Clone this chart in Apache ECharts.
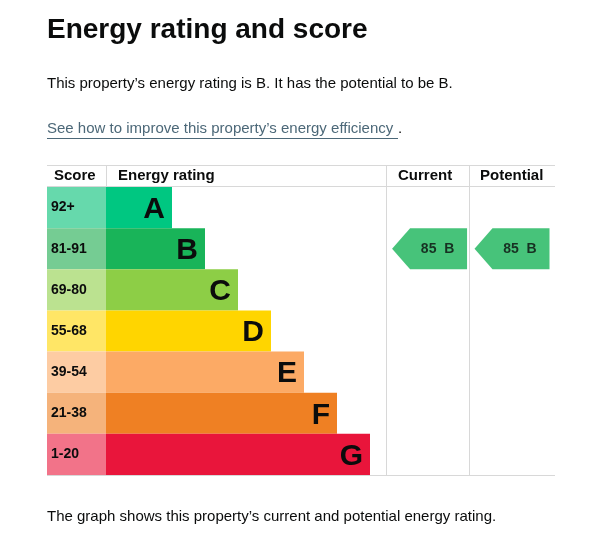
<!DOCTYPE html>
<html><head><meta charset="utf-8">
<script src="https://cdn.jsdelivr.net/npm/echarts@6/dist/echarts.min.js"></script>
<style>html,body{margin:0;background:#fff}#c{width:599px;height:539px}</style>
</head><body><div id="c"></div>
<script>
var bands = ['A', 'B', 'C', 'D', 'E', 'F', 'G'];
var scoreRanges = ['92+', '81-91', '69-80', '55-68', '39-54', '21-38', '1-20'];
var barLengths = [2, 3, 4, 5, 6, 7, 8];
var bandColors = ['#00c781', '#19b459', '#8dce46', '#ffd500', '#fcaa65', '#ef8023', '#e9153b'];
var scoreColors = ['#66d9ac', '#75cc93', '#bbe290', '#ffe666', '#fdcca3', '#f5b37b', '#f27389'];
var currentScore = 85, currentBand = 'B';
var potentialScore = 85, potentialBand = 'B';

var font = 'Arial, "Liberation Sans", sans-serif';
var chart = echarts.init(document.getElementById('c'));
var yCat = function (i) {
    return {gridIndex: i, type: 'category', data: bands, inverse: true, show: false};
};
var line = function (x1, y1, x2, y2) {
    return {type: 'line', shape: {x1: x1, y1: y1, x2: x2, y2: y2}, style: {stroke: '#d8d8d8', lineWidth: 1}, z: 10};
};
var arrowPath = 'path://M0,20 L18,0 L75,0 L75,40 L18,40 Z';

var option = {
    animation: false,
    grid: [
        {left: 47, width: 59, top: 187, height: 288},
        {left: 106, right: 44, top: 187, height: 288},
        {left: 386, width: 83, top: 187, height: 288},
        {left: 469, width: 86, top: 187, height: 288}
    ],
    xAxis: [
        {gridIndex: 0, type: 'value', min: 0, max: 1, show: false},
        {gridIndex: 1, type: 'value', min: 0, max: 449 / 33, show: false},
        {gridIndex: 2, type: 'value', min: -1, max: 1, show: false},
        {gridIndex: 3, type: 'value', min: -1, max: 1, show: false}
    ],
    yAxis: [yCat(0), yCat(1), yCat(2), yCat(3)],
    series: [{
        type: 'bar', xAxisIndex: 0, yAxisIndex: 0, barCategoryGap: 0,
        data: scoreRanges.map(function (s, i) {
            return {value: 1, itemStyle: {color: scoreColors[i]}, label: {formatter: s}};
        }),
        label: {show: true, position: 'insideLeft', offset: [-1, 0], color: '#0b0c0c', fontFamily: font, fontWeight: 'bold', fontSize: 14}
    }, {
        type: 'bar', xAxisIndex: 1, yAxisIndex: 1, barCategoryGap: 0,
        data: barLengths.map(function (v, i) {
            return {value: v, itemStyle: {color: bandColors[i]}};
        }),
        label: {show: true, position: 'insideRight', offset: [-2, 2], formatter: function (p) { return bands[p.dataIndex]; },
            color: '#0b0c0c', fontFamily: font, fontWeight: 'bold', fontSize: 30}
    }, {
        type: 'scatter', xAxisIndex: 2, yAxisIndex: 2, symbol: arrowPath, symbolSize: [75, 41],
        itemStyle: {color: bandColors[bands.indexOf(currentBand)]},
        data: [[0.05, currentBand]],
        label: {show: true, position: 'inside', offset: [8, 0], formatter: currentScore + '  ' + currentBand,
            color: '#0b0c0c', fontFamily: font, fontWeight: 'bold', fontSize: 14}
    }, {
        type: 'scatter', xAxisIndex: 3, yAxisIndex: 3, symbol: arrowPath, symbolSize: [75, 41],
        itemStyle: {color: bandColors[bands.indexOf(potentialBand)]},
        data: [[0.0, potentialBand]],
        label: {show: true, position: 'inside', offset: [8, 0], formatter: potentialScore + '  ' + potentialBand,
            color: '#0b0c0c', fontFamily: font, fontWeight: 'bold', fontSize: 14}
    }],
    graphic: [
        {type: 'text', left: 47, top: 16, style: {text: 'Energy rating and score', fill: '#0b0c0c', font: 'bold 28px ' + font}},
        {type: 'text', left: 47, top: 76, style: {text: 'This property\u2019s energy rating is B. It has the potential to be B.', fill: '#0b0c0c', font: '15px ' + font}},
        {type: 'text', left: 47, top: 121, style: {text: 'See how to improve this property\u2019s energy efficiency', fill: '#4c6878', font: '15px ' + font}},
        {type: 'text', left: 398, top: 121, style: {text: '.', fill: '#0b0c0c', font: '15px ' + font}},
        {type: 'line', shape: {x1: 47, y1: 138.5, x2: 398, y2: 138.5}, style: {stroke: '#4c6878', lineWidth: 1}},
        {type: 'text', left: 54, top: 168, style: {text: 'Score', fill: '#0b0c0c', font: 'bold 15px ' + font}},
        {type: 'text', left: 118, top: 168, style: {text: 'Energy rating', fill: '#0b0c0c', font: 'bold 15px ' + font}},
        {type: 'text', left: 398, top: 168, style: {text: 'Current', fill: '#0b0c0c', font: 'bold 15px ' + font}},
        {type: 'text', left: 480, top: 168, style: {text: 'Potential', fill: '#0b0c0c', font: 'bold 15px ' + font}},
        line(47, 165.5, 555, 165.5),
        line(47, 186.5, 555, 186.5),
        line(47, 475.5, 555, 475.5),
        line(106.5, 165, 106.5, 187),
        line(386.5, 165, 386.5, 475),
        line(469.5, 165, 469.5, 475),
        {type: 'text', left: 47, top: 509, style: {text: 'The graph shows this property\u2019s current and potential energy rating.', fill: '#0b0c0c', font: '15px ' + font}}
    ]
};
option && chart.setOption(option);
</script></body></html>
